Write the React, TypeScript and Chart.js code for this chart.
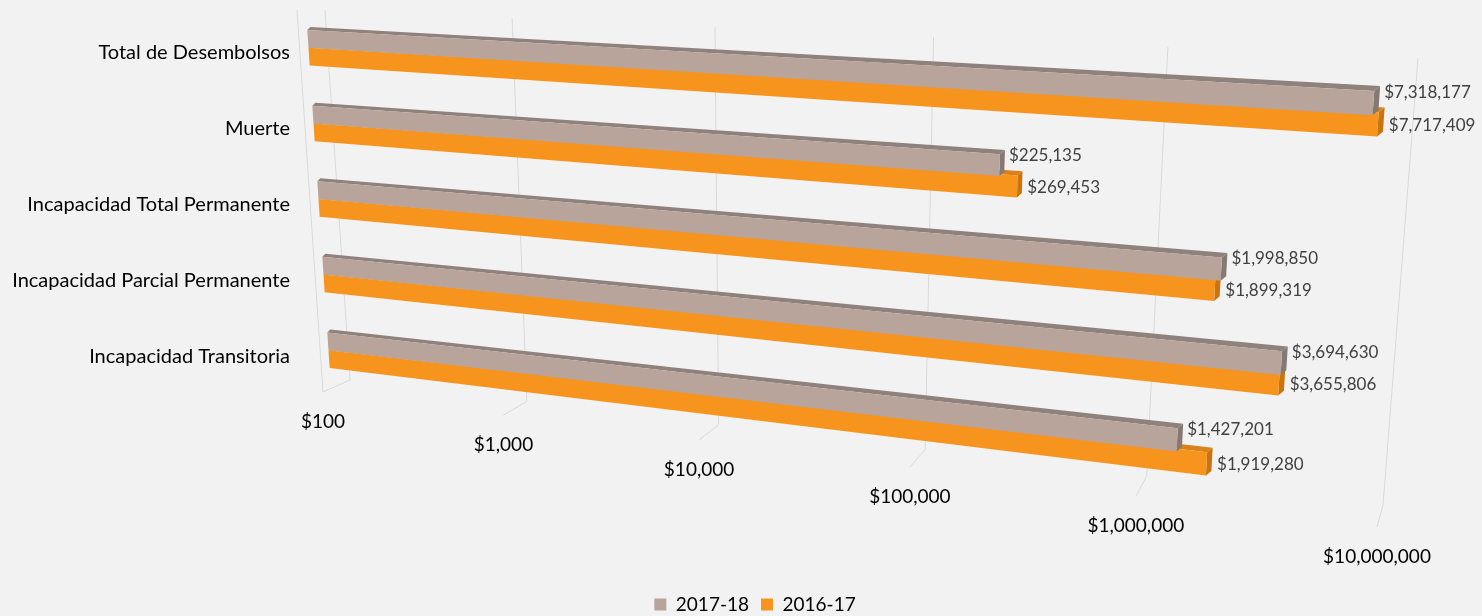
import { useEffect, useRef } from 'react';
import { Chart, registerables } from 'chart.js';

Chart.register(...registerables);

// ---- data ----
const categories = [
  'Total de Desembolsos',
  'Muerte',
  'Incapacidad Total Permanente',
  'Incapacidad Parcial Permanente',
  'Incapacidad Transitoria',
];
const seriesNames = ['2017-18', '2016-17'];
const values2017 = [7318177, 225135, 1998850, 3694630, 1427201];
const values2016 = [7717409, 269453, 1899319, 3655806, 1919280];
const axisTicks = [100, 1000, 10000, 100000, 1000000, 10000000];

// ---- styles / perspective layout ----
const FONT = "Lato, 'Open Sans', sans-serif";
const BG = '#F2F2F2';
const FACES = [
  { front: '#B8A49B', top: '#8F827C', end: '#857973' },
  { front: '#F7941E', top: '#D8821A', end: '#C9740E' },
];
type Pt = [number, number];
const FRONT = { tl: [306, 10] as Pt, bl: [331, 388] as Pt, tr: [1411, 71] as Pt, br: [1378, 519] as Pt };
const WALL = { tl: [325, 10] as Pt, tr: [1418, 58] as Pt, bl: [350, 380] as Pt, br: [1383, 505] as Pt };
const SIDE_EDGE: [Pt, Pt] = [[297, 10], [323, 392]];
const WARP = 0.18;
const THICK_GROW = 0.16;
const TICK_VEC: [Pt, Pt] = [[-27, 12], [-6, 22]];
const DEPTH: [Pt, Pt] = [[3, -3], [6, -5]];
const PAD = { top: 14, left: 0, right: -28, bottom: -8 };
const AREA_H = 381;
const Y_AXIS_W = 306;

const lerp = (a: Pt, b: Pt, t: number): Pt => [a[0] + (b[0] - a[0]) * t, a[1] + (b[1] - a[1]) * t];
const add = (a: Pt, b: Pt): Pt => [a[0] + b[0], a[1] + b[1]];
const warp = (u: number) => u - WARP * u * (1 - u);
const fmt = (n: number) => '$' + n.toLocaleString('en-US');

function uOf(ca: any, px: number) {
  return (px - ca.left) / (ca.right - ca.left);
}

// project a flat chart point (px, py) belonging to a bar centred on cy
function project(ca: any, px: number, py: number, cy: number): Pt {
  const H = ca.bottom - ca.top;
  const us = warp(uOf(ca, px));
  const vc = (cy - ca.top) / H;
  const dv = (py - cy) / H;
  const left = lerp(FRONT.tl, FRONT.bl, vc);
  const right = lerp(FRONT.tr, FRONT.br, vc);
  const c = lerp(left, right, us);
  const lv: Pt = [FRONT.bl[0] - FRONT.tl[0], FRONT.bl[1] - FRONT.tl[1]];
  const rv: Pt = [FRONT.br[0] - FRONT.tr[0], FRONT.br[1] - FRONT.tr[1]];
  const vec = lerp(lv, rv, us);
  const s = dv * (1 + THICK_GROW * us);
  return [c[0] + vec[0] * s, c[1] + vec[1] * s];
}

function poly(ctx: CanvasRenderingContext2D, pts: Pt[], color: string) {
  ctx.beginPath();
  ctx.moveTo(pts[0][0], pts[0][1]);
  for (let i = 1; i < pts.length; i++) ctx.lineTo(pts[i][0], pts[i][1]);
  ctx.closePath();
  ctx.fillStyle = color;
  ctx.fill();
}

function drawBar3D(ctx: CanvasRenderingContext2D, chart: any, el: any, di: number) {
  const ca = chart.chartArea;
  const f = FACES[di];
  const top = el.y - el.height / 2;
  const bot = el.y + el.height / 2;
  const A = project(ca, el.base, top, el.y);
  const B = project(ca, el.x, top, el.y);
  const C = project(ca, el.x, bot, el.y);
  const D = project(ca, el.base, bot, el.y);
  const dA = lerp(DEPTH[0], DEPTH[1], 0);
  const dB = lerp(DEPTH[0], DEPTH[1], warp(uOf(ca, el.x)));
  ctx.save();
  poly(ctx, [A, B, add(B, dB), add(A, dA)], f.top);
  poly(ctx, [B, C, add(C, dB), add(B, dB)], f.end);
  poly(ctx, [A, B, C, D], f.front);
  ctx.restore();
}

const perspectivePlugin = {
  id: 'perspective3d',
  beforeDatasetsDraw(chart: any) {
    const ctx: CanvasRenderingContext2D = chart.ctx;
    const ca = chart.chartArea;
    const xs = chart.scales.x;
    // wall grid lines
    ctx.save();
    ctx.strokeStyle = '#D9D9D9';
    ctx.lineWidth = 1;
    ctx.beginPath();
    ctx.moveTo(SIDE_EDGE[0][0], SIDE_EDGE[0][1]);
    ctx.lineTo(SIDE_EDGE[1][0], SIDE_EDGE[1][1]);
    axisTicks.forEach((t) => {
      const us = warp(uOf(ca, xs.getPixelForValue(t)));
      const a = lerp(WALL.tl, WALL.tr, us);
      const b = lerp(WALL.bl, WALL.br, us);
      const e = add(b, lerp(TICK_VEC[0], TICK_VEC[1], us));
      ctx.moveTo(a[0], a[1]);
      ctx.lineTo(b[0], b[1]);
      ctx.lineTo(e[0], e[1]);
    });
    ctx.stroke();
    // tick labels
    ctx.fillStyle = '#000000';
    ctx.font = `19px ${FONT}`;
    ctx.textAlign = 'center';
    ctx.textBaseline = 'middle';
    axisTicks.forEach((t) => {
      const us = warp(uOf(ca, xs.getPixelForValue(t)));
      const b = lerp(WALL.bl, WALL.br, us);
      const e = add(b, lerp(TICK_VEC[0], TICK_VEC[1], us));
      ctx.fillText(fmt(t), e[0], e[1] + 30);
    });
    ctx.restore();
    // make each bar draw itself in perspective
    chart.data.datasets.forEach((_ds: any, di: number) => {
      const meta = chart.getDatasetMeta(di);
      meta.data.forEach((el: any) => {
        el.draw = (c: CanvasRenderingContext2D) => drawBar3D(c, chart, el, di);
      });
    });
  },
  afterDatasetsDraw(chart: any) {
    const ctx: CanvasRenderingContext2D = chart.ctx;
    const ca = chart.chartArea;
    ctx.save();
    ctx.fillStyle = '#404040';
    ctx.font = `17px ${FONT}`;
    ctx.textAlign = 'left';
    ctx.textBaseline = 'middle';
    chart.data.datasets.forEach((ds: any, di: number) => {
      const meta = chart.getDatasetMeta(di);
      meta.data.forEach((el: any, i: number) => {
        const dB = lerp(DEPTH[0], DEPTH[1], warp(uOf(ca, el.x)));
        if (di === 0) {
          const p = project(ca, el.x, el.y - el.height / 2, el.y);
          ctx.fillText(fmt(ds.data[i]), p[0] + dB[0] + 4, p[1] + 1);
        } else {
          const p = project(ca, el.x, el.y, el.y);
          ctx.fillText(fmt(ds.data[i]), p[0] + dB[0] + 5, p[1] + 1);
        }
      });
    });
    ctx.restore();
  },
};

export default function App() {
  const ref = useRef<HTMLCanvasElement>(null);
  useEffect(() => {
    const chart = new Chart(ref.current as HTMLCanvasElement, {
      type: 'bar',
      data: {
        labels: categories,
        datasets: [
          { label: seriesNames[0], data: values2017, backgroundColor: FACES[0].front, clip: false } as any,
          { label: seriesNames[1], data: values2016, backgroundColor: FACES[1].front, clip: false } as any,
        ],
      },
      options: {
        indexAxis: 'y',
        responsive: false,
        animation: false,
        events: [],
        layout: { padding: PAD },
        datasets: { bar: { categoryPercentage: 0.47, barPercentage: 1 } },
        scales: {
          x: {
            type: 'logarithmic',
            min: 100,
            max: 10000000,
            grid: { display: false, drawTicks: false },
            border: { display: false },
            ticks: { display: false },
            afterFit: (s: any) => {
              const lg = s.chart.legend;
              s.height = s.chart.height - PAD.bottom - PAD.top - AREA_H - (lg ? lg.height : 0);
              s.paddingLeft = 0;
              s.paddingRight = 0;
            },
          },
          y: {
            grid: { display: false, drawTicks: false },
            border: { display: false },
            ticks: { font: { family: FONT, size: 20 }, color: '#000000', padding: 16 },
            afterFit: (s: any) => {
              s.width = Y_AXIS_W;
              s.paddingTop = 0;
              s.paddingBottom = 0;
            },
          },
        },
        plugins: {
          legend: {
            position: 'bottom',
            labels: { boxWidth: 12, boxHeight: 12, padding: 12, font: { family: FONT, size: 19 }, color: '#000000' },
          },
          tooltip: { enabled: false },
        },
      } as any,
      plugins: [perspectivePlugin],
    });
    return () => chart.destroy();
  }, []);
  return (
    <div style={{ position: 'fixed', left: 0, top: 0, width: 1482, height: 616, background: BG }}>
      <canvas ref={ref} width={1482} height={616} style={{ display: 'block' }} />
    </div>
  );
}
